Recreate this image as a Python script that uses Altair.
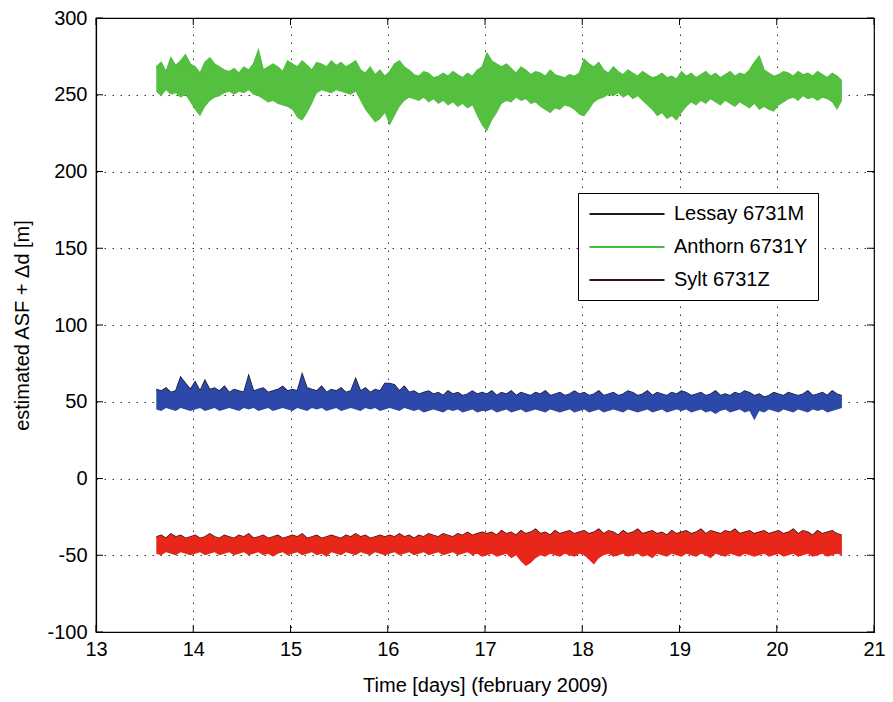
import altair as alt
import pandas as pd

# ---------------- data ----------------
STATIONS = ["Lessay 6731M", "Anthorn 6731Y", "Sylt 6731Z"]
LINE_COLORS = ["#1a1a2a", "#45bd3b", "#2a1414"]
BAND_COLORS = ["#2c48a8", "#55bf3f", "#e8261a"]

X_TICKS = [13, 14, 15, 16, 17, 18, 19, 20, 21]
Y_TICKS = [-100, -50, 0, 50, 100, 150, 200, 250, 300]

# sample times: first sample and spacing (days)
T_START = 13.62
T_STEP = 0.05

# upper / lower envelope of each noisy record, one value per sample
ANTHORN_HI = ([268, 271, 265, 274, 269, 272, 276, 270]
              + [268, 264, 271, 274, 270, 268, 266, 265, 267, 264, 268, 266, 270, 279, 266, 268, 270, 268, 265, 272]
              + [270, 268, 272, 269, 266, 271, 270, 268, 272, 269, 271, 268, 270, 272, 266, 264, 268, 263, 266, 262]
              + [265, 270, 272, 268, 266, 263, 262, 265, 264, 261, 262, 264, 262, 265, 263, 261, 264, 262, 266, 268]
              + [277, 272, 270, 268, 270, 267, 264, 268, 266, 263, 265, 264, 262, 266, 263, 262, 261, 263, 262, 264]
              + [273, 270, 268, 271, 266, 264, 268, 265, 263, 266, 264, 262, 265, 263, 261, 262, 264, 261, 262, 260]
              + [265, 262, 264, 261, 263, 265, 262, 264, 261, 263, 265, 262, 264, 263, 266, 271, 275, 266, 264, 262]
              + [263, 265, 264, 262, 265, 263, 264, 262, 265, 263, 261, 264, 262, 259])
ANTHORN_LO = ([252, 249, 253, 250, 251, 248, 250, 245]
              + [240, 236, 242, 246, 248, 249, 251, 252, 250, 252, 251, 253, 250, 249, 247, 245, 246, 244, 243, 242]
              + [240, 235, 233, 238, 244, 251, 253, 252, 251, 253, 252, 251, 250, 252, 246, 240, 236, 232, 234, 238]
              + [230, 236, 242, 246, 248, 247, 246, 248, 245, 247, 244, 246, 243, 245, 242, 244, 241, 243, 236, 230]
              + [226, 233, 238, 244, 246, 245, 248, 246, 247, 244, 245, 242, 240, 238, 241, 240, 243, 242, 240, 237]
              + [236, 240, 245, 247, 248, 250, 249, 251, 248, 250, 247, 249, 246, 243, 240, 236, 238, 234, 236, 233]
              + [238, 242, 245, 243, 246, 244, 247, 245, 243, 246, 244, 242, 245, 243, 241, 244, 240, 242, 240, 239]
              + [243, 245, 247, 248, 246, 249, 247, 248, 246, 248, 247, 245, 240, 246])

LESSAY_HI = ([58, 57, 59, 56, 57, 66, 62, 58]
             + [63, 57, 64, 58, 59, 57, 60, 56, 58, 57, 56, 67, 57, 58, 59, 56, 57, 58, 60, 57]
             + [58, 57, 68, 59, 58, 57, 60, 56, 58, 57, 59, 56, 57, 65, 57, 59, 56, 58, 57, 62]
             + [62, 61, 57, 60, 56, 57, 55, 56, 57, 55, 56, 54, 57, 55, 56, 54, 55, 57, 55, 56]
             + [55, 57, 54, 56, 55, 57, 54, 56, 55, 54, 56, 55, 57, 54, 55, 56, 54, 55, 57, 55]
             + [56, 54, 55, 57, 54, 55, 56, 54, 55, 57, 56, 54, 55, 57, 54, 56, 55, 54, 56, 55]
             + [57, 56, 54, 55, 56, 54, 55, 57, 54, 55, 54, 56, 55, 57, 56, 54, 55, 53, 54, 56]
             + [55, 54, 56, 55, 54, 55, 57, 54, 55, 56, 54, 57, 55, 54])
LESSAY_LO = ([45, 44, 46, 45, 44, 46, 45, 44]
             + [45, 46, 44, 45, 46, 44, 45, 46, 45, 44, 46, 45, 46, 44, 45, 46, 44, 45, 46, 45]
             + [44, 46, 45, 44, 46, 45, 46, 44, 45, 46, 44, 45, 46, 45, 44, 46, 45, 46, 44, 45]
             + [46, 45, 44, 46, 45, 44, 45, 43, 44, 45, 44, 43, 45, 44, 45, 43, 44, 45, 43, 44]
             + [44, 45, 43, 44, 45, 43, 44, 45, 43, 44, 45, 44, 43, 45, 44, 43, 44, 45, 43, 44]
             + [45, 43, 44, 45, 43, 44, 45, 44, 43, 45, 44, 43, 44, 45, 43, 44, 45, 43, 44, 45]
             + [44, 45, 43, 44, 45, 43, 44, 42, 44, 45, 43, 44, 45, 43, 44, 38, 44, 43, 45, 44]
             + [43, 45, 44, 43, 45, 44, 43, 45, 44, 45, 43, 44, 45, 46])

SYLT_HI = ([-38, -37, -39, -36, -38, -37, -39, -38]
           + [-37, -39, -38, -36, -38, -39, -37, -38, -39, -37, -38, -36, -39, -38, -37, -39, -38, -37, -39, -38]
           + [-37, -38, -36, -39, -38, -37, -39, -38, -37, -38, -39, -37, -38, -36, -38, -37, -39, -38, -37, -38]
           + [-37, -38, -36, -38, -37, -39, -37, -38, -36, -37, -38, -36, -37, -38, -36, -37, -35, -37, -36, -35]
           + [-36, -35, -37, -34, -36, -35, -37, -34, -36, -35, -33, -36, -35, -37, -34, -36, -35, -34, -36, -35]
           + [-34, -36, -35, -33, -36, -34, -35, -37, -34, -36, -35, -33, -36, -35, -34, -36, -35, -37, -34, -36]
           + [-35, -34, -36, -35, -33, -36, -34, -35, -36, -34, -35, -33, -36, -35, -34, -36, -35, -34, -36, -35]
           + [-34, -36, -35, -33, -36, -34, -35, -37, -34, -36, -35, -34, -36, -37])
SYLT_LO = ([-49, -50, -48, -49, -50, -48, -49, -50]
           + [-49, -48, -50, -49, -48, -50, -49, -48, -50, -49, -48, -50, -49, -48, -50, -49, -51, -49, -48, -50]
           + [-49, -48, -50, -49, -48, -50, -49, -51, -48, -49, -50, -48, -49, -50, -48, -49, -50, -48, -49, -50]
           + [-49, -48, -50, -49, -48, -50, -49, -48, -50, -49, -48, -50, -49, -48, -50, -49, -48, -50, -49, -51]
           + [-50, -49, -51, -50, -49, -52, -50, -54, -57, -55, -52, -50, -51, -49, -50, -51, -49, -50, -51, -49]
           + [-50, -53, -56, -52, -50, -49, -51, -50, -49, -51, -50, -49, -51, -50, -52, -49, -50, -51, -49, -50]
           + [-51, -49, -50, -51, -49, -50, -52, -49, -50, -51, -49, -50, -51, -49, -50, -51, -50, -49, -51, -50]
           + [-49, -51, -50, -49, -51, -50, -49, -51, -50, -49, -51, -50, -49, -50])

# ---------------- table ----------------
rows = []
for name, his, los in zip(STATIONS,
                          [LESSAY_HI, ANTHORN_HI, SYLT_HI],
                          [LESSAY_LO, ANTHORN_LO, SYLT_LO]):
    for i, (h, l) in enumerate(zip(his, los)):
        rows.append({"station": name, "t": round(T_START + i * T_STEP, 4), "hi": h, "lo": l})
df = pd.DataFrame(rows)

xtick_df = pd.DataFrame({"t": X_TICKS})
ytick_df = pd.DataFrame({"hi": Y_TICKS})

W, H = 778, 614
FONT = "Liberation Sans"

xs = alt.X("t:Q", scale=alt.Scale(domain=[13, 21], nice=False, zero=False),
           axis=alt.Axis(values=X_TICKS, title="Time [days] (february 2009)",
                         labelExpr="toString(datum.value)", labelFlush=False,
                         labelPadding=7, titlePadding=16))
ys = alt.Y("hi:Q", scale=alt.Scale(domain=[-100, 300], nice=False, zero=False),
           axis=alt.Axis(values=Y_TICKS, title="estimated ASF + Δd [m]",
                         labelExpr="toString(datum.value)", labelFlush=False,
                         labelPadding=9, titlePadding=14))

legend = alt.Legend(
    orient="none", legendX=482, legendY=175, title=None,
    strokeColor="black", fillColor="white", padding=10,
    labelFont=FONT, labelFontSize=20, labelColor="black",
    symbolType="M-3.75,0H3.75", symbolSize=400, symbolStrokeWidth=2,
    symbolOffset=28, labelOffset=36, rowPadding=12,
)

lines = alt.Chart(df).mark_line(strokeWidth=1.4).encode(
    x=xs, y=ys,
    color=alt.Color("station:N", sort=STATIONS,
                    scale=alt.Scale(domain=STATIONS, range=LINE_COLORS), legend=legend),
)

bands = alt.Chart(df).mark_area(opacity=1, interpolate="linear").encode(
    x=xs, y=ys, y2="lo:Q",
    color=alt.Color("station:N", sort=STATIONS,
                    scale=alt.Scale(domain=STATIONS, range=BAND_COLORS), legend=None),
    detail="station:N",
)

TK = 7
xt_bottom = alt.Chart(xtick_df).mark_rule(color="black").encode(
    x=xs, y=alt.value(H), y2=alt.value(H - TK))
xt_top = alt.Chart(xtick_df).mark_rule(color="black").encode(
    x=xs, y=alt.value(0), y2=alt.value(TK))
yt_left = alt.Chart(ytick_df).mark_rule(color="black").encode(
    y=ys, x=alt.value(0), x2=alt.value(TK))
yt_right = alt.Chart(ytick_df).mark_rule(color="black").encode(
    y=ys, x=alt.value(W), x2=alt.value(W - TK))

chart = alt.layer(lines, bands, xt_bottom, xt_top, yt_left, yt_right).resolve_scale(
    color="independent"
).properties(
    width=W, height=H,
    autosize=alt.AutoSizeParams(type="none"),
    padding={"left": 88, "top": 10, "right": 11, "bottom": 70},
    background="white",
).configure_view(
    stroke="black", strokeWidth=1.2,
).configure_axis(
    labelFont=FONT, labelFontSize=20, labelColor="black",
    titleFont=FONT, titleFontSize=20, titleFontWeight="normal", titleColor="black",
    domainColor="black", domainWidth=1.2, ticks=False,
    grid=True, gridColor="black", gridDash=[1.5, 6.5], gridOpacity=0.8, gridWidth=1,
)

chart.save("out.html", embed_options={"renderer": "svg", "actions": False})
